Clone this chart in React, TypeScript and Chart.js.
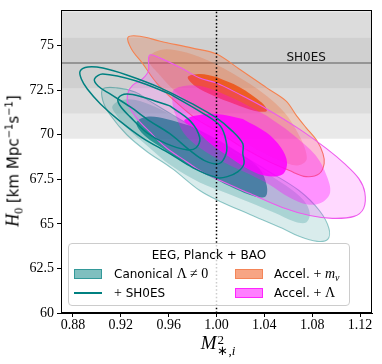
import React, { useEffect, useRef } from 'react';
import { Chart, registerables } from 'chart.js';

Chart.register(...registerables);

// ---- axes ----
const xRange: [number, number] = [0.87, 1.13];
const yRange: [number, number] = [60, 77];
const xTicks = [0.88, 0.92, 0.96, 1.0, 1.04, 1.08, 1.12];
const yTicks = [60, 62.5, 65, 67.5, 70, 72.5, 75];

// ---- SH0ES prior band ----
const sh0esMean = 74.03;
const sh0esSigma = 1.42;
const sh0esBands = [3, 2, 1];
const sh0esLabel = 'SH0ES';
const sh0esLabelX = 1.075;
const referenceM2 = 1.0;

type P = [number, number];

// ---- Canonical Lambda != 0 (filled, 3 levels) ----
const canonicalOuter: P[] = [
  [0.994, 69.89], [1.019, 68.94], [1.044, 67.93], [1.069, 66.87], [1.086, 65.75], [1.094, 64.75],
  [1.093, 64.13], [1.084, 64.02], [1.069, 64.30], [1.055, 64.75], [1.028, 65.53], [1.003, 66.26],
  [0.986, 66.87], [0.963, 68.10], [0.942, 69.05], [0.925, 70.00], [0.911, 71.12], [0.905, 71.90],
  [0.905, 72.57], [0.917, 72.63], [0.932, 72.40], [0.944, 71.90], [0.969, 70.89],
];
const canonicalMid: P[] = [
  [0.986, 70.22], [1.011, 69.11], [1.036, 68.10], [1.058, 67.15], [1.073, 66.31], [1.078, 65.59],
  [1.075, 65.08], [1.065, 65.14], [1.048, 65.64], [1.028, 66.20], [1.007, 66.76], [0.986, 67.32],
  [0.962, 68.27], [0.942, 69.39], [0.925, 70.39], [0.915, 71.23], [0.913, 71.62], [0.921, 71.95],
  [0.936, 71.90], [0.961, 71.17],
];
const canonicalInner: P[] = [
  [0.978, 70.50], [0.998, 69.83], [1.019, 68.99], [1.036, 68.10], [1.042, 67.15], [1.041, 66.54],
  [1.032, 66.54], [1.015, 66.98], [0.998, 67.54], [0.980, 68.16], [0.958, 69.11], [0.940, 69.94],
  [0.933, 70.67], [0.942, 71.01], [0.958, 70.89],
];

// ---- + SH0ES (lines only, 3 levels) ----
const shoesOuter: P[] = [
  [0.980, 71.73], [1.000, 70.95], [1.013, 70.22], [1.022, 69.50], [1.022, 68.94], [1.023, 68.38],
  [1.018, 67.93], [1.009, 67.65], [1.000, 67.60], [0.980, 68.16], [0.961, 68.94], [0.938, 69.83],
  [0.919, 70.78], [0.903, 71.73], [0.892, 72.57], [0.887, 73.13], [0.886, 73.57], [0.8925, 73.80],
  [0.905, 73.74], [0.925, 73.35], [0.953, 72.63],
];
const shoesMid: P[] = [
  [0.961, 72.29], [0.988, 71.23], [1.003, 70.50], [1.008, 69.66], [1.008, 68.94], [1.002, 68.38],
  [0.990, 68.55], [0.978, 69.11], [0.961, 70.06], [0.944, 70.78], [0.928, 71.56], [0.911, 72.29],
  [0.901, 72.74], [0.898, 73.13], [0.905, 73.41], [0.933, 73.02],
];
const shoesInner: P[] = [
  [0.961, 71.62], [0.978, 70.78], [0.986, 69.83], [0.983, 69.27], [0.975, 69.16], [0.958, 69.50],
  [0.942, 70.11], [0.928, 70.99], [0.919, 71.67], [0.918, 72.07], [0.925, 72.29], [0.938, 72.12],
];

// ---- Accel. + m_nu (filled, 3 levels) ----
const mnuOuter: P[] = [
  [1.019, 69.39], [1.000, 70.22], [0.983, 70.89], [0.965, 71.90], [0.950, 72.90], [0.938, 74.02],
  [0.929, 74.80], [0.926, 75.47], [0.936, 75.53], [0.953, 75.25], [0.980, 74.86], [1.000, 74.53],
  [1.019, 73.69], [1.042, 72.63], [1.058, 71.90], [1.067, 71.06], [1.075, 70.39], [1.084, 69.66],
  [1.089, 68.94], [1.090, 68.38], [1.086, 67.82], [1.075, 67.65], [1.061, 67.99], [1.042, 68.55],
];
const mnuMid: P[] = [
  [1.032, 69.22], [1.011, 70.22], [0.986, 71.34], [0.965, 72.46], [0.951, 73.46], [0.944, 74.02],
  [0.944, 74.41], [0.953, 74.75], [0.965, 74.75], [0.986, 74.36], [1.013, 73.46], [1.042, 72.18],
  [1.057, 71.23], [1.067, 70.22], [1.074, 69.22], [1.075, 68.55], [1.067, 68.27], [1.053, 68.55],
];
const mnuInner: P[] = [
  [1.000, 73.24], [1.019, 72.68], [1.038, 71.79], [1.042, 71.34], [1.032, 71.34], [1.015, 71.73],
  [0.998, 72.18], [0.982, 72.74], [0.976, 73.24], [0.986, 73.41],
];

// ---- Accel. + Lambda (filled, 3 levels) ----
const lambdaOuter: P[] = [
  [1.022, 72.18], [1.042, 71.45], [1.069, 70.33], [1.092, 69.22], [1.107, 68.38], [1.119, 67.54],
  [1.124, 66.76], [1.123, 65.87], [1.115, 65.42], [1.097, 65.31], [1.078, 65.47], [1.055, 65.92],
  [1.028, 66.70], [1.003, 67.43], [0.986, 67.99], [0.975, 68.49], [0.958, 69.27], [0.944, 70.17],
  [0.933, 70.95], [0.926, 71.73], [0.926, 72.35], [0.930, 72.79], [0.938, 73.13], [0.943, 73.57],
  [0.944, 74.47], [0.953, 74.30], [0.972, 73.69], [0.986, 73.18], [1.000, 72.90],
];
const lambdaMid: P[] = [
  [1.042, 71.06], [1.063, 70.06], [1.083, 68.83], [1.092, 67.71], [1.095, 66.76], [1.088, 66.20],
  [1.076, 66.09], [1.061, 66.48], [1.044, 67.21], [1.028, 67.77], [1.007, 68.43], [0.986, 69.27],
  [0.973, 70.06], [0.966, 71.06], [0.963, 71.90], [0.965, 72.57], [0.986, 72.74], [1.013, 72.07],
];
const lambdaInner: P[] = [
  [1.022, 70.89], [1.042, 70.11], [1.054, 69.27], [1.059, 68.43], [1.055, 67.77], [1.040, 67.71],
  [1.023, 68.21], [1.009, 68.83], [0.994, 69.55], [0.982, 70.33], [0.973, 70.78], [0.982, 71.06],
  [1.000, 71.17],
];

const legendTitle = 'EEG, Planck + BAO';

const TEAL = '0,128,128';
const ORANGE = '240,75,10';
const MAGENTA = '255,0,255';

const closed = (pts: P[]) => {
  const d = pts.map(([x, y]) => ({ x, y }));
  d.push({ x: pts[0][0], y: pts[0][1] });
  return d;
};

function contour(label: string, pts: P[], area: string | null, line: string | null, width: number, order: number) {
  return {
    label,
    data: closed(pts),
    areaColor: area,
    borderColor: line || 'rgba(0,0,0,0)',
    borderWidth: line ? width : 0,
    pointRadius: 0,
    pointHoverRadius: 0,
    tension: 0.35,
    fill: false,
    order,
  } as any;
}

const areaPlugin = {
  id: 'closedArea',
  beforeDatasetDraw(chart: any, args: any) {
    const ds = chart.data.datasets[args.index];
    if (!ds || !ds.areaColor) return;
    const line = args.meta.dataset;
    if (!line) return;
    const { ctx, chartArea: a } = chart;
    line.updateControlPoints(a, 'x');
    ctx.save();
    ctx.beginPath();
    ctx.rect(a.left, a.top, a.right - a.left, a.bottom - a.top);
    ctx.clip();
    ctx.beginPath();
    line.path(ctx);
    ctx.closePath();
    ctx.fillStyle = ds.areaColor;
    ctx.fill();
    ctx.restore();
  },
};

const framePlugin = {
  id: 'frameAndLabel',
  afterDatasetsDraw(chart: any) {
    const { ctx, chartArea: a, scales } = chart;
    ctx.save();
    ctx.font = '12px "DejaVu Sans"';
    ctx.fillStyle = '#111';
    ctx.textAlign = 'center';
    ctx.textBaseline = 'alphabetic';
    ctx.fillText(sh0esLabel, scales.x.getPixelForValue(sh0esLabelX), scales.y.getPixelForValue(sh0esMean) - 2);
    ctx.strokeStyle = '#000';
    ctx.lineWidth = 1;
    ctx.strokeRect(a.left + 0.5, a.top + 0.5, a.right - a.left - 1, a.bottom - a.top - 1);
    ctx.restore();
  },
};

export default function App() {
  const ref = useRef<HTMLCanvasElement | null>(null);

  useEffect(() => {
    if (!ref.current) return;
    const bandSets = sh0esBands.map((k, i) => ({
      label: `band${k}`,
      data: [
        { x: xRange[0], y: sh0esMean + k * sh0esSigma },
        { x: xRange[1], y: sh0esMean + k * sh0esSigma },
      ],
      fill: { value: sh0esMean - k * sh0esSigma },
      backgroundColor: k === 3 ? 'rgba(0,0,0,0.085)' : 'rgba(0,0,0,0.06)',
      borderWidth: 0,
      pointRadius: 0,
      order: 200 - i,
    }));

    const datasets: any[] = [
      ...bandSets,
      {
        label: 'sh0esLine',
        data: [{ x: xRange[0], y: sh0esMean }, { x: xRange[1], y: sh0esMean }],
        borderColor: 'rgb(128,128,128)',
        borderWidth: 1.5,
        pointRadius: 0,
        fill: false,
        order: 150,
      },
      contour('canonical3', canonicalOuter, `rgba(${TEAL},0.15)`, `rgba(${TEAL},0.42)`, 1.1, 60),
      contour('canonical2', canonicalMid, `rgba(${TEAL},0.22)`, null, 0, 59),
      contour('canonical1', canonicalInner, `rgba(${TEAL},0.75)`, null, 0, 58),
      contour('mnu3', mnuOuter, `rgba(${ORANGE},0.2)`, 'rgb(245,130,80)', 1.1, 50),
      contour('mnu2', mnuMid, `rgba(${ORANGE},0.2)`, null, 0, 49),
      contour('mnu1', mnuInner, `rgba(${ORANGE},0.8)`, null, 0, 48),
      contour('lambda3', lambdaOuter, `rgba(${MAGENTA},0.15)`, 'rgb(238,90,238)', 1.1, 40),
      contour('lambda2', lambdaMid, `rgba(${MAGENTA},0.33)`, null, 0, 39),
      contour('lambda1', lambdaInner, `rgba(${MAGENTA},0.85)`, null, 0, 38),
      contour('shoes3', shoesOuter, null, `rgb(${TEAL})`, 1.5, 20),
      contour('shoes2', shoesMid, null, `rgb(${TEAL})`, 1.5, 19),
      contour('shoes1', shoesInner, null, `rgb(${TEAL})`, 1.5, 18),
      {
        label: 'reference',
        data: [{ x: referenceM2, y: yRange[0] }, { x: referenceM2, y: yRange[1] }],
        borderColor: '#000',
        borderWidth: 1.5,
        borderDash: [1.5, 2.2],
        pointRadius: 0,
        fill: false,
        order: 0,
      },
    ];

    const tickFont = { family: '"Liberation Serif", serif', size: 14, lineHeight: 1 };
    const chart = new Chart(ref.current, {
      type: 'line',
      data: { datasets },
      options: {
        responsive: false,
        animation: false,
        devicePixelRatio: 1,
        events: [],
        layout: { padding: { left: 0, right: 10, top: 10, bottom: 0 } },
        plugins: { legend: { display: false }, tooltip: { enabled: false } },
        scales: {
          x: {
            type: 'linear',
            min: xRange[0],
            max: xRange[1],
            afterBuildTicks: (s: any) => { s.ticks = xTicks.map((v) => ({ value: v })); },
            afterFit: (s: any) => { s.height = 51; },
            grid: { display: true, drawOnChartArea: false, drawTicks: true, tickLength: 4, color: '#000' },
            border: { display: true, color: '#000', width: 1 },
            ticks: { font: tickFont, color: '#000', padding: 1, maxRotation: 0, autoSkip: false, callback: (v: any) => Number(v).toFixed(2) },
          },
          y: {
            type: 'linear',
            min: yRange[0],
            max: yRange[1],
            afterBuildTicks: (s: any) => { s.ticks = yTicks.map((v) => ({ value: v })); },
            afterFit: (s: any) => { s.width = 61; },
            grid: { display: true, drawOnChartArea: false, drawTicks: true, tickLength: 4, color: '#000' },
            border: { display: true, color: '#000', width: 1 },
            ticks: { font: tickFont, color: '#000', padding: 3, autoSkip: false, callback: (v: any) => String(v) },
          },
        },
      } as any,
      plugins: [areaPlugin, framePlugin],
    });
    return () => chart.destroy();
  }, []);

  const serif = '"Liberation Serif", serif';
  const sw = (bg: string, border: string, left: number): React.CSSProperties => ({
    position: 'absolute', left, top: 25, width: 28, height: 10, boxSizing: 'border-box', background: bg, border: `1px solid ${border}`,
  });
  const txt = (left: number, top: number): React.CSSProperties => ({
    position: 'absolute', left, top, lineHeight: '14px', whiteSpace: 'nowrap',
  });

  return (
    <div style={{ position: 'fixed', left: 0, top: 0, width: 382, height: 364, background: '#fff', overflow: 'hidden' }}>
      <canvas ref={ref} width={382} height={364} style={{ position: 'absolute', left: 0, top: 0, width: 382, height: 364 }} />

      {/* y axis title */}
      <div style={{ position: 'absolute', left: 14, top: 161, transform: 'translate(-50%, -50%) rotate(-90deg)', whiteSpace: 'nowrap', fontFamily: '"DejaVu Sans", sans-serif', fontSize: 15, lineHeight: '18px', color: '#000' }}>
        <span style={{ fontFamily: serif, fontStyle: 'italic', fontSize: 18 }}>H</span>
        <span style={{ fontFamily: serif, fontSize: 12, position: 'relative', top: 4 }}>0</span>
        {' [km Mpc'}
        <span style={{ fontSize: 10, position: 'relative', top: -6 }}>−1</span>
        {'s'}
        <span style={{ fontSize: 10, position: 'relative', top: -6 }}>−1</span>
        {']'}
      </div>

      {/* x axis title */}
      <div style={{ position: 'absolute', left: 218, top: 333, transform: 'translateX(-50%)', display: 'flex', alignItems: 'flex-start', fontFamily: serif, color: '#000' }}>
        <span style={{ fontStyle: 'italic', fontSize: 19, lineHeight: '20px' }}>M</span>
        <span style={{ display: 'flex', flexDirection: 'column', fontSize: 13, lineHeight: '11px', marginTop: 1, marginLeft: 1 }}>
          <span>2</span>
          <span>∗,<i>i</i></span>
        </span>
      </div>

      {/* legend */}
      <div style={{ position: 'absolute', left: 68, top: 243, width: 282, height: 63, boxSizing: 'border-box', border: '1px solid #cccccc', borderRadius: 4, background: 'rgba(255,255,255,0.8)', fontFamily: '"DejaVu Sans", sans-serif', fontSize: 12, color: '#000' }}>
        <div style={{ position: 'absolute', left: 0, right: 0, top: 4, textAlign: 'center', lineHeight: '14px' }}>{legendTitle}</div>
        <div style={sw(`rgba(${TEAL},0.5)`, `rgba(${TEAL},0.6)`, 5)} />
        <div style={txt(45, 23)}>Canonical <span style={{ fontFamily: serif, fontSize: 14 }}>Λ ≠ 0</span></div>
        <div style={{ position: 'absolute', left: 5, top: 48, width: 28, height: 2, background: `rgb(${TEAL})` }} />
        <div style={txt(45, 42)}><span style={{ fontFamily: serif, fontSize: 14 }}>+</span> SH0ES</div>
        <div style={sw(`rgba(${ORANGE},0.5)`, `rgba(${ORANGE},0.35)`, 166)} />
        <div style={txt(205, 23)}>Accel. <span style={{ fontFamily: serif, fontSize: 14 }}>+ <i>m</i><sub style={{ fontSize: 10, verticalAlign: 'baseline', position: 'relative', top: 3 }}><i>ν</i></sub></span></div>
        <div style={{ ...sw(`rgba(${MAGENTA},0.5)`, `rgba(${MAGENTA},0.7)`, 166), top: 44 }} />
        <div style={txt(205, 42)}>Accel. <span style={{ fontFamily: serif, fontSize: 14 }}>+ Λ</span></div>
      </div>
    </div>
  );
}
